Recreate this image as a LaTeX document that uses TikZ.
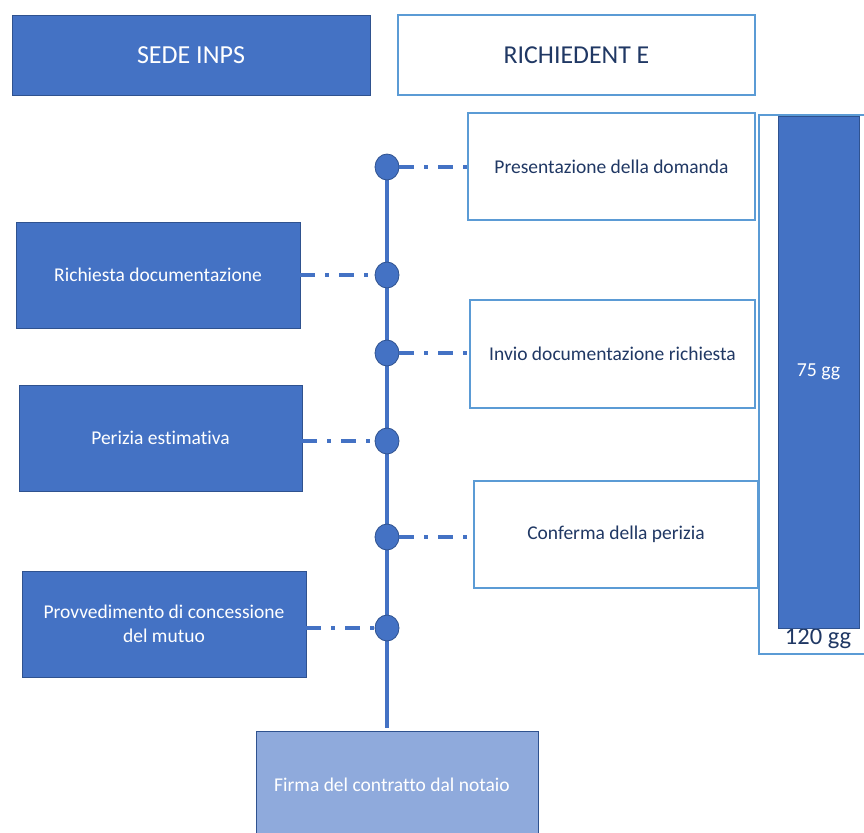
\documentclass[tikz,border=0pt]{standalone}
\usepackage{fontspec}
\setmainfont{Carlito}[Ligatures=NoCommon]
\usetikzlibrary{shapes.geometric,calc}
\definecolor{mblue}{HTML}{4472C4}
\definecolor{dblue}{HTML}{2F528F}
\definecolor{lblue}{HTML}{5B9BD5}
\definecolor{navy}{HTML}{203864}
\definecolor{pblue}{HTML}{8FAADC}
\begin{document}
\begin{tikzpicture}[x=1pt,y=-1pt,
  bluebox/.style={draw=dblue,line width=0.8pt,fill=mblue,text=white,inner sep=0pt,align=center,font=\fontsize{19.5}{24}\selectfont},
  whitebox/.style={draw=lblue,line width=1.3pt,fill=white,text=navy,inner sep=0pt,align=center,font=\fontsize{19.5}{24}\selectfont},
  dot/.style={ellipse,draw=dblue,line width=0.8pt,fill=mblue,minimum width=24pt,minimum height=26pt,inner sep=0pt},
  link/.style={mblue,line width=3.4pt,dash pattern=on 15pt off 10pt on 4pt off 10pt},
  spine/.style={mblue,line width=4.2pt}
]
\useasboundingbox (0,0) rectangle (864,832);
\clip (0,0) rectangle (864,832);
% headers
\node[bluebox,minimum width=358pt,minimum height=80pt,font=\fontsize{26}{30}\selectfont] (sede) at (191,55) {SEDE INPS};
\node[whitebox,minimum width=357pt,minimum height=80pt,font=\fontsize{25.8}{30}\selectfont] (rich) at (576.5,55) {RICHIEDENT E};
% 120 gg outer rect
\draw[lblue,line width=1.3pt] (900,115) -- (759,115) -- (759,654) -- (900,654);
\node[text=navy,font=\fontsize{24.5}{28}\selectfont] (t120) at (818,639) {120 gg};
% 75 gg bar
\node[bluebox,minimum width=81pt,minimum height=512pt,font=\fontsize{19.8}{24}\selectfont] (t75) at (818.5,372) {75 gg};
% timeline spine
\coordinate (ttop) at (387,167);
\coordinate (tend) at (387,728);
\draw[spine] (ttop) -- (tend);
\node[dot] (c1) at (387,167) {};
\node[dot] (c2) at (387,275) {};
\node[dot] (c3) at (387,353) {};
\node[dot] (c4) at (387,441) {};
\node[dot] (c5) at (387,537) {};
\node[dot] (c6) at (387,628) {};
% right boxes
\node[whitebox,minimum width=287pt,minimum height=107pt] (pres) at (611.5,166.5) {Presentazione della domanda};
\node[whitebox,minimum width=285pt,minimum height=108pt] (invio) at (612.5,354) {Invio documentazione richiesta};
\node[whitebox,minimum width=284pt,minimum height=107pt] (conf) at (616,534.5) {Conferma della perizia};
% left boxes
\node[bluebox,minimum width=284pt,minimum height=106pt] (richd) at (158,275) {Richiesta documentazione};
\node[bluebox,minimum width=283pt,minimum height=106pt] (peri) at (160.5,438) {Perizia estimativa};
\node[bluebox,minimum width=284pt,minimum height=106pt] (prov) at (164,624) {Provvedimento di concessione\\del mutuo};
% bottom box
\node[bluebox,fill=pblue,minimum width=282pt,minimum height=120pt,anchor=north] (firma) at (397,731) {};
\node[text=white,font=\fontsize{19.5}{24}\selectfont] (firmat) at (392,785) {Firma del contratto dal notaio};
% connectors
\draw[link] (c1.east) -- (pres.west |- c1);
\draw[link] (richd.east |- c2) -- (c2.west);
\draw[link] (c3.east) -- (invio.west |- c3);
\draw[link] (peri.east |- c4) -- (c4.west);
\draw[link] (c5.east) -- (conf.west |- c5);
\draw[link] (prov.east |- c6) -- (c6.west);
\end{tikzpicture}
\end{document}
